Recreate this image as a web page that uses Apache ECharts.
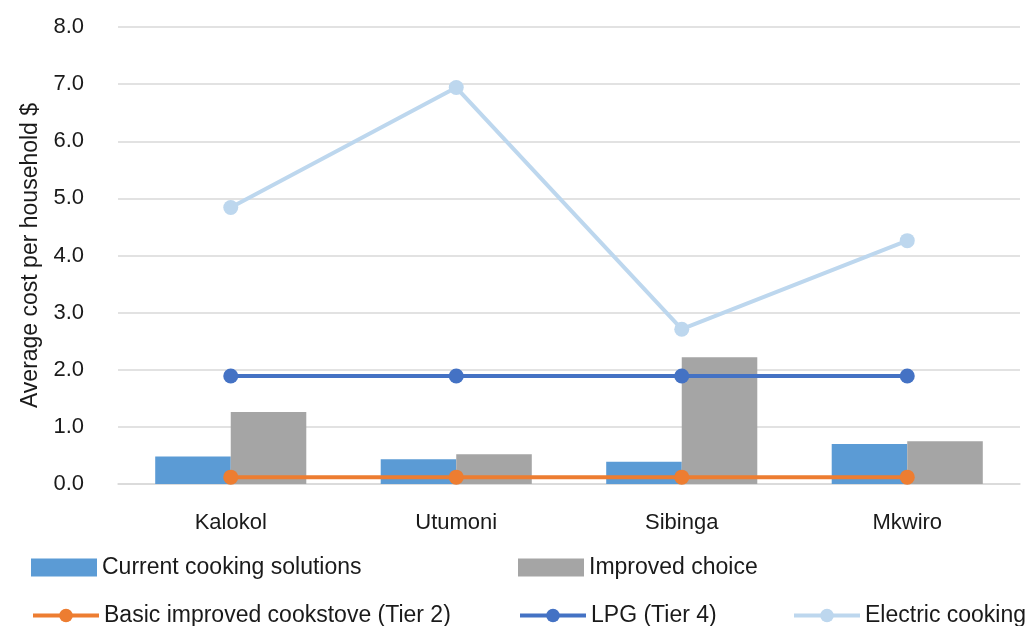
<!DOCTYPE html>
<html>
<head>
<meta charset="utf-8">
<script src="https://cdn.jsdelivr.net/npm/echarts@6/dist/echarts.min.js"></script>
<style>
  html, body { margin: 0; padding: 0; background: #fff; }
  #chart { width: 1032px; height: 626px; }
</style>
</head>
<body>
<div id="chart"></div>
<script>
// Sites and average cost per household ($) for each cooking option
const sites = ['Kalokol', 'Utumoni', 'Sibinga', 'Mkwiro'];
const currentCooking = [0.48, 0.435, 0.39, 0.70];
const improvedChoice = [1.26, 0.52, 2.22, 0.75];
const basicCookstove = [0.12, 0.12, 0.12, 0.12];
const lpgTier4 = [1.89, 1.89, 1.89, 1.89];
const electricCooking = [4.84, 6.94, 2.71, 4.26];

const FONT = 'Liberation Sans, Arial, sans-serif';
const TEXT = '#1a1a1a';
const GRID = '#d9d9d9';

const names = {
  current: 'Current cooking solutions',
  improved: 'Improved choice',
  basic: 'Basic improved cookstove (Tier 2)',
  lpg: 'LPG (Tier 4)',
  electric: 'Electric cooking'
};

function legendItem(name, left, top, isLine) {
  const item = {
    data: [name],
    left: left,
    top: top,
    padding: 0,
    orient: 'horizontal',
    itemWidth: 66,
    itemHeight: isLine ? 17 : 18,
    itemGap: 0,
    textStyle: { fontFamily: FONT, fontSize: 23, color: TEXT, padding: [0, 0, 0, 0] },
    selectedMode: false
  };
  if (isLine) {
    item.lineStyle = { width: 4 };
  } else {
    item.icon = 'rect';
  }
  return item;
}

const chart = echarts.init(document.getElementById('chart'), null, { renderer: 'canvas' });

chart.setOption({
  animation: false,
  backgroundColor: '#ffffff',
  grid: { left: 118, right: 12, top: 27, bottom: 142 },
  legend: [
    legendItem(names.current, 31, 556, false),
    legendItem(names.improved, 518, 556, false),
    legendItem(names.basic, 31, 604, true),
    legendItem(names.lpg, 518, 604, true),
    legendItem(names.electric, 792, 604, true)
  ],
  xAxis: {
    type: 'category',
    data: sites,
    boundaryGap: true,
    axisLine: { lineStyle: { color: GRID, width: 1.5 } },
    axisTick: { show: false },
    axisLabel: { fontFamily: FONT, fontSize: 22, color: TEXT, margin: 28 }
  },
  yAxis: {
    type: 'value',
    min: 0,
    max: 8,
    interval: 1,
    name: 'Average cost per household $',
    nameLocation: 'middle',
    nameGap: 75,
    nameTextStyle: { fontFamily: FONT, fontSize: 23, color: TEXT },
    axisLine: { show: false },
    axisTick: { show: false },
    axisLabel: {
      fontFamily: FONT, fontSize: 22, color: TEXT, margin: 34,
      formatter: v => v.toFixed(1)
    },
    splitLine: { lineStyle: { color: GRID, width: 1.5 } }
  },
  series: [
    {
      name: names.current,
      type: 'bar',
      data: currentCooking,
      barGap: '0%',
      barCategoryGap: '33%',
      itemStyle: { color: '#5b9bd5' },
      z: 2
    },
    {
      name: names.improved,
      type: 'bar',
      data: improvedChoice,
      barGap: '0%',
      barCategoryGap: '33%',
      itemStyle: { color: '#a5a5a5' },
      z: 2
    },
    {
      name: names.basic,
      type: 'line',
      data: basicCookstove,
      symbol: 'circle',
      symbolSize: 15,
      lineStyle: { color: '#ed7d31', width: 4 },
      itemStyle: { color: '#ed7d31' },
      z: 3
    },
    {
      name: names.lpg,
      type: 'line',
      data: lpgTier4,
      symbol: 'circle',
      symbolSize: 15,
      lineStyle: { color: '#4472c4', width: 4 },
      itemStyle: { color: '#4472c4' },
      z: 3
    },
    {
      name: names.electric,
      type: 'line',
      data: electricCooking,
      symbol: 'circle',
      symbolSize: 15,
      lineStyle: { color: '#bdd7ee', width: 4 },
      itemStyle: { color: '#bdd7ee' },
      z: 3
    }
  ]
});
</script>
</body>
</html>
